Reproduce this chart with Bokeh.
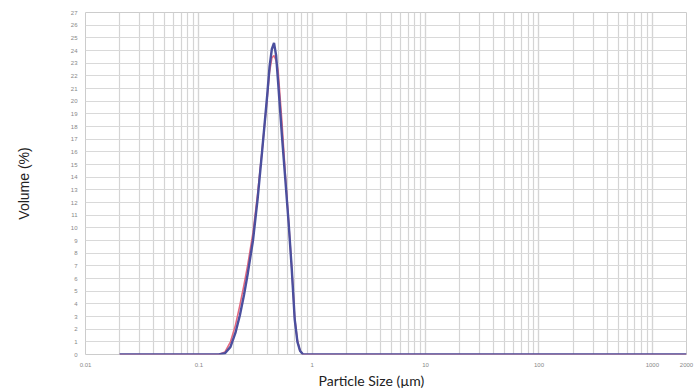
from bokeh.plotting import figure
from bokeh.models import FixedTicker, CustomJSTickFormatter, Range1d, Title
from bokeh.embed import file_html
from bokeh.resources import INLINE

# Particle size (µm) and volume (%) for the two measurements
sizes = [0.02, 0.1, 0.15, 0.17, 0.19, 0.21, 0.23, 0.25, 0.27, 0.30, 0.33, 0.36,
         0.40, 0.42, 0.44, 0.46, 0.48, 0.50, 0.54, 0.58, 0.62, 0.66, 0.70, 0.74,
         0.78, 0.83, 1.0, 2000]
blue_vol = [0, 0, 0, 0.1, 0.6, 1.7, 3.1, 4.7, 6.4, 9.0, 12.3, 15.9,
            20.4, 22.7, 24.1, 24.6, 23.6, 21.5, 17.3, 13.7, 10.3, 6.7, 2.8, 1.0,
            0.3, 0, 0, 0]
red_vol = [0, 0, 0, 0.2, 1.0, 2.3, 3.9, 5.5, 7.1, 9.6, 12.7, 16.0,
           20.2, 22.3, 23.4, 23.6, 23.2, 22.4, 18.4, 14.1, 10.4, 6.8, 2.9, 1.1,
           0.3, 0, 0, 0]

x_ticks = [0.01, 0.1, 1, 10, 100, 1000, 2000]
y_ticks = list(range(0, 28))
x_minor = [m * 10 ** e for e in range(-2, 4) for m in range(1, 10)]

p = figure(width=698, height=388, x_axis_type="log",
           x_range=Range1d(0.01, 2000), y_range=Range1d(0, 27),
           output_backend="svg", toolbar_location=None,
           min_border_left=85, min_border_right=12, min_border_top=12,
           min_border_bottom=32)

p.line(sizes, red_vol, line_color="#e36a80", line_width=1.6)
p.line(sizes, blue_vol, line_color="#4b4f9e", line_width=2.4)

p.xaxis.ticker = FixedTicker(ticks=x_ticks, minor_ticks=x_minor)
p.yaxis.ticker = FixedTicker(ticks=y_ticks)
p.xaxis.formatter = CustomJSTickFormatter(code="return String(tick);")

for ax in (p.xaxis, p.yaxis):
    ax.major_label_text_font_size = "6px"
    ax.major_label_text_color = "#888888"
    ax.axis_line_color = None
    ax.major_tick_line_color = None
    ax.minor_tick_line_color = None
    ax.major_label_standoff = 2

p.add_layout(Title(text="Particle Size (µm)", align="left", offset=233,
                   text_font="Lato", text_font_size="14px",
                   text_font_style="normal", text_color="#222222",
                   standoff=0), "below")

p.yaxis.axis_label = "Volume (%)"
p.yaxis.axis_label_text_font = "Liberation Sans"
p.yaxis.axis_label_text_font_size = "14px"
p.yaxis.axis_label_text_font_style = "normal"
p.yaxis.axis_label_text_color = "#222222"
p.yaxis.axis_label_standoff = 36

p.xgrid.grid_line_color = "#d4d4d4"
p.xgrid.minor_grid_line_color = "#d4d4d4"
p.xgrid.grid_line_width = 1.2
p.xgrid.minor_grid_line_width = 1.2
p.ygrid.grid_line_color = "#d9d9d9"
p.ygrid.grid_line_width = 1

p.outline_line_color = "#cccccc"
p.background_fill_color = "white"
p.border_fill_color = "white"

open("out.html", "w").write(file_html(p, INLINE))
